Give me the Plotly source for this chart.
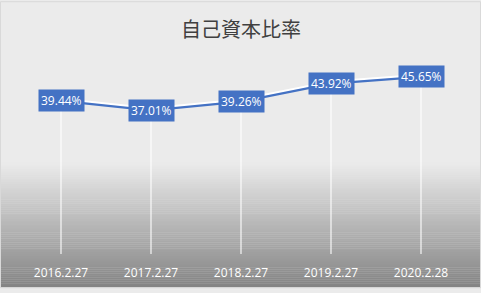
import plotly.graph_objects as go

categories = ["2016.2.27", "2017.2.27", "2018.2.27", "2019.2.27", "2020.2.28"]
ratios = [39.44, 37.01, 39.26, 43.92, 45.65]
title_text = "自己資本比率"

W, H = 481, 293
L, R, T, B = 16, 15, 60, 35
plot_h = H - T - B
y_max = 50.0
px_per_unit = plot_h / y_max

fig = go.Figure()

# drop lines (white) from each point down to the axis
fig.add_trace(go.Scatter(
    x=categories, y=ratios, mode="markers",
    marker=dict(size=0.1, color="rgba(0,0,0,0)"),
    error_y=dict(type="data", symmetric=False, array=[0] * len(ratios),
                 arrayminus=ratios, color="rgba(255,255,255,0.9)", thickness=1.2, width=0),
    hoverinfo="skip", showlegend=False))

# white shadow slightly above line
shift = 2.0 / px_per_unit
fig.add_trace(go.Scatter(
    x=categories, y=[v + shift for v in ratios], mode="lines",
    line=dict(color="white", width=2.5), hoverinfo="skip", showlegend=False))

fig.add_trace(go.Scatter(
    x=categories, y=ratios, mode="lines",
    line=dict(color="#4472C4", width=2.25), showlegend=False))

for c, v in zip(categories, ratios):
    fig.add_annotation(x=c, y=v, text=f"{v:.2f}%", showarrow=False,
                       font=dict(family="Open Sans, Noto Sans", size=12, color="white"),
                       bgcolor="#4472C4", borderpad=2, xanchor="center", yanchor="middle")

# background gradient (styling)
shapes = []
g_top, g_bot = 165, 292
c_top, c_bot = 235, 131
steps = 64
for i in range(steps):
    p0 = g_top + (g_bot - g_top) * i / steps
    p1 = g_top + (g_bot - g_top) * (i + 1) / steps
    c = round(c_top + (c_bot - c_top) * (i + 0.5) / steps)
    shapes.append(dict(type="rect", xref="paper", yref="paper", layer="below",
                       x0=(0 - L) / (W - L - R), x1=(W - L) / (W - L - R),
                       y0=(H - B - p1) / plot_h, y1=(H - B - p0 + 0.3) / plot_h,
                       line=dict(width=0), fillcolor=f"rgb({c},{c},{c})"))
# border
shapes.append(dict(type="rect", xref="paper", yref="paper", layer="above",
                   x0=(0.5 - L) / (W - L - R), x1=(W - 0.5 - L) / (W - L - R),
                   y0=(H - B - (H - 0.5)) / plot_h, y1=(H - B - 0.5) / plot_h,
                   line=dict(width=1, color="#d9d9d9"), fillcolor="rgba(0,0,0,0)"))

fig.update_layout(
    width=W, height=H,
    margin=dict(l=L, r=R, t=T, b=B),
    paper_bgcolor="#ebebeb", plot_bgcolor="rgba(0,0,0,0)",
    shapes=shapes,
    title=dict(text=title_text, x=0.5, xref="paper", xanchor="center",
               y=1 - 30 / H, yanchor="middle",
               font=dict(family="Noto Sans CJK JP", size=20, color="#404040")),
    xaxis=dict(type="category", range=[-0.5, 4.5], showgrid=False, zeroline=False,
               showline=False, ticks="", ticklabelstandoff=10,
               tickfont=dict(family="Open Sans, Noto Sans", size=12, color="white")),
    yaxis=dict(range=[0, y_max], visible=False, showgrid=False, zeroline=False),
    showlegend=False,
)

fig.write_html("out.html")
